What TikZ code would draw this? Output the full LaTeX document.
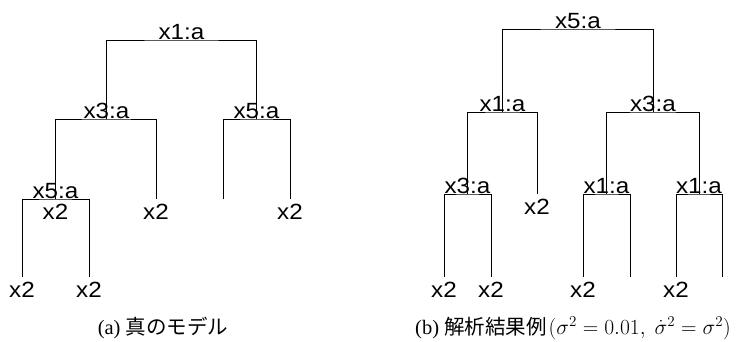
\RequirePackage{fix-cm}
\documentclass[tikz,border=0pt]{standalone}
\usepackage{fontspec}
\setmainfont{Liberation Serif}
\newfontfamily\treefont[FakeStretch=1.1]{Liberation Sans}
\newfontfamily\jpfont{Noto Sans CJK JP}

\begin{document}
\begin{tikzpicture}[x=1pt,y=-1pt,
  edge/.style={line width=1pt, black},
  split/.style={font=\treefont\fontsize{22}{22}\selectfont, inner sep=0pt, anchor=base, yshift=1pt},
  leaf/.style={font=\treefont\fontsize{22}{22}\selectfont, inner sep=0pt, anchor=north, yshift=-5pt},
  caption/.style={font=\fontsize{20.5}{24}\selectfont, inner sep=0pt, anchor=base}]
\useasboundingbox (0,0) rectangle (738,341);

% ---------- (a) true model ----------
\coordinate (a1) at (181.5,40);
\coordinate (a2) at (106.5,119);
\coordinate (a3) at (256.5,119);
\coordinate (a4) at (55.5,199);
\coordinate (a2r) at (156,199);
\coordinate (a3l) at (223,199);
\coordinate (a3r) at (290,199);
\coordinate (a4l) at (22,277);
\coordinate (a4r) at (89,277);

\draw[edge] (a2) |- (a1) -| (a3);
\draw[edge] (a4) |- (a2) -| (a2r);
\draw[edge] (a3l) |- (a3) -| (a3r);
\draw[edge] (a4l) |- (a4) -| (a4r);

\node[split] (a1t) at (a1) {x1:a};
\node[split] (a2t) at (a2) {x3:a};
\node[split] (a3t) at (a3) {x5:a};
\node[split] (a4t) at (a4) {x5:a};

\node[leaf] (a4x) at (a4) {x2};
\node[leaf] (a2rx) at (a2r) {x2};
\node[leaf] (a3rx) at (a3r) {x2};
\node[leaf] (a4lx) at (a4l) {x2};
\node[leaf] (a4rx) at (a4r) {x2};

\node[caption] (capa) at (163,334) {(a) {\jpfont 真のモデル}};

% ---------- (b) estimated model ----------
\coordinate (b1) at (578,29);
\coordinate (b2) at (502.5,112);
\coordinate (b3) at (653,112);
\coordinate (b4) at (467.5,194);
\coordinate (b2r) at (537,194);
\coordinate (b5) at (606.5,194);
\coordinate (b6) at (699,194);
\coordinate (b4l) at (444,277);
\coordinate (b4r) at (491,277);
\coordinate (b5l) at (583,277);
\coordinate (b5r) at (630,277);
\coordinate (b6l) at (676,277);
\coordinate (b6r) at (722,277);

\draw[edge] (b2) |- (b1) -| (b3);
\draw[edge] (b4) |- (b2) -| (b2r);
\draw[edge] (b5) |- (b3) -| (b6);
\draw[edge] (b4l) |- (b4) -| (b4r);
\draw[edge] (b5l) |- (b5) -| (b5r);
\draw[edge] (b6l) |- (b6) -| (b6r);

\node[split] (b1t) at (b1) {x5:a};
\node[split] (b2t) at (b2) {x1:a};
\node[split] (b3t) at (b3) {x3:a};
\node[split] (b4t) at (b4) {x3:a};
\node[split] (b5t) at (b5) {x1:a};
\node[split] (b6t) at (b6) {x1:a};

\node[leaf] (b2rx) at (b2r) {x2};
\node[leaf] (b4lx) at (b4l) {x2};
\node[leaf] (b4rx) at (b4r) {x2};
\node[leaf] (b5lx) at (b5l) {x2};
\node[leaf] (b6lx) at (b6l) {x2};

\node[caption, anchor=base west] (capb) at (415,334)
  {(b) {\jpfont 解析結果例}\kern2pt{\fontsize{21.5}{24}\selectfont$(\sigma^2 = 0.01,\ \dot{\sigma}^2 = \sigma^2)$}};
\end{tikzpicture}
\end{document}
